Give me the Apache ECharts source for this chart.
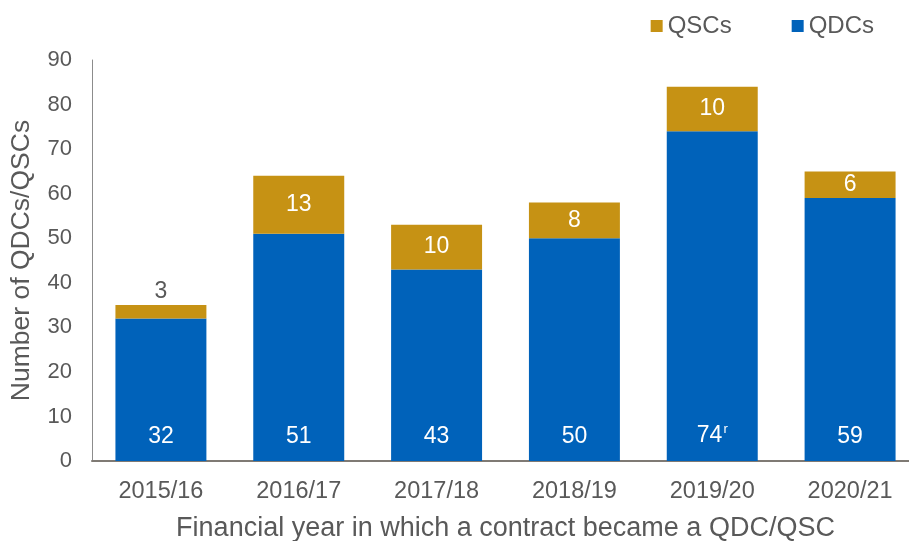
<!DOCTYPE html>
<html>
<head>
<meta charset="utf-8">
<script src="https://cdn.jsdelivr.net/npm/echarts@6/dist/echarts.min.js"></script>
<style>
  html, body { margin: 0; padding: 0; background: #fff; }
  #chart { width: 909px; height: 541px; }
</style>
</head>
<body>
<div id="chart"></div>
<script>
// Contracts becoming QDCs / QSCs by financial year
const years = ['2015/16', '2016/17', '2017/18', '2018/19', '2019/20', '2020/21'];
const qdcValues = [32, 51, 43, 50, 74, 59];
const qscValues = [3, 13, 10, 8, 10, 6];
// revision markers shown next to QDC values
const qdcNotes = ['', '', '', '', 'r', ''];
const yTicks = { min: 0, max: 90, step: 10 };

const FONT = '"Liberation Sans", Arial, sans-serif';
const GREY = '#595959';
const BLUE = '#0062BA';
const GOLD = '#C69214';

const chart = echarts.init(document.getElementById('chart'), null, { renderer: 'canvas' });

chart.setOption({
  animation: false,
  textStyle: { fontFamily: FONT },
  legend: {
    data: ['QSCs', 'QDCs'],
    top: 9,
    right: 30,
    itemWidth: 12,
    itemHeight: 12,
    itemGap: 60,
    icon: 'rect',
    textStyle: { fontFamily: FONT, fontSize: 24, color: GREY }
  },
  grid: { left: 92, right: -10, top: 60, bottom: 80, outerBoundsMode: 'none' },
  xAxis: {
    type: 'category',
    data: years,
    axisLine: { lineStyle: { color: '#7f7a74', width: 2 } },
    axisTick: { show: false },
    axisLabel: { fontFamily: FONT, fontSize: 23.5, color: GREY, margin: 19 },
    name: 'Financial year in which a contract became a QDC/QSC',
    nameLocation: 'middle',
    nameGap: 54,
    nameTextStyle: { fontFamily: FONT, fontSize: 27, color: GREY }
  },
  yAxis: {
    type: 'value',
    min: yTicks.min,
    max: yTicks.max,
    interval: yTicks.step,
    splitLine: { show: false },
    axisLine: { show: true, lineStyle: { color: '#8c8c8c', width: 1 } },
    axisTick: { show: false },
    axisLabel: { fontFamily: FONT, fontSize: 22, color: GREY, margin: 20 },
    name: 'Number of QDCs/QSCs',
    nameLocation: 'middle',
    nameGap: 57,
    nameTextStyle: { fontFamily: FONT, fontSize: 26.5, color: GREY }
  },
  series: [
    {
      name: 'QDCs',
      type: 'bar',
      stack: 'total',
      barCategoryGap: '34%',
      itemStyle: { color: BLUE },
      data: qdcValues,
      label: {
        show: true,
        position: 'insideBottom',
        distance: 13,
        color: '#fff',
        fontFamily: FONT,
        fontSize: 23,
        formatter: p => qdcNotes[p.dataIndex] ? p.value + '{sup|' + qdcNotes[p.dataIndex] + '}' : String(p.value),
        rich: {
          sup: { fontSize: 13, color: '#fff', verticalAlign: 'top', padding: [0, 0, 12, 1], fontFamily: FONT }
        }
      }
    },
    {
      name: 'QSCs',
      type: 'bar',
      stack: 'total',
      barCategoryGap: '34%',
      itemStyle: { color: GOLD },
      data: qscValues.map(v => {
        // segments too thin to hold a label get it above the bar
        if (v < 5) {
          return { value: v, label: { position: 'top', color: GREY, distance: 2 } };
        }
        return v;
      }),
      label: {
        show: true,
        position: 'inside',
        color: '#fff',
        fontFamily: FONT,
        fontSize: 23
      }
    }
  ]
});
</script>
</body>
</html>
